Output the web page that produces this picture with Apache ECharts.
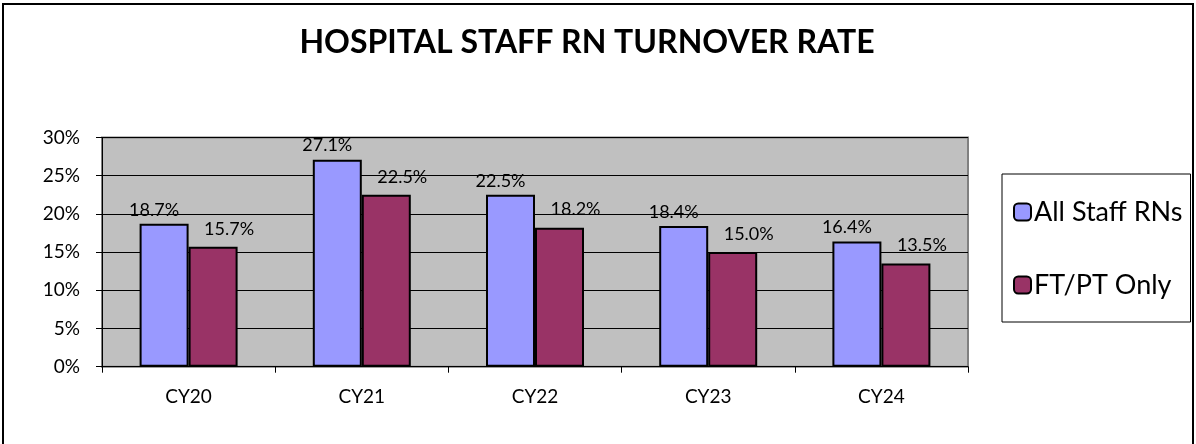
<!DOCTYPE html>
<html>
<head>
<meta charset="utf-8">
<script src="https://cdn.jsdelivr.net/npm/echarts@6/dist/echarts.min.js"></script>
<style>
  html, body { margin: 0; padding: 0; background: #fff; }
  #chart-wrap { width: 1196px; height: 444px; }
</style>
</head>
<body>
<div id="chart-wrap"></div>
<script>
// 年份
const years = ['CY20', 'CY21', 'CY22', 'CY23', 'CY24']
// 全部护士流失率 (%)
const allStaff = [18.7, 27.1, 22.5, 18.4, 16.4]
// 全职/兼职
const ftPt = [15.7, 22.5, 18.2, 15.0, 13.5]
// y 轴刻度
const yTicks = [0, 5, 10, 15, 20, 25, 30]

const $chart = document.getElementById('chart-wrap')
let chart = echarts.init($chart)

const font = 'Lato'

function barLabel(offsetX, dist) {
  return {
    show: true,
    position: 'top',
    distance: dist,
    offset: [offsetX, 0],
    fontFamily: font,
    fontSize: 18,
    color: '#000',
    formatter(p) {
      return p.value.toFixed(1) + '%'
    }
  }
}

const option = {
  animation: false,
  backgroundColor: '#fff',
  title: {
    text: 'HOSPITAL STAFF RN TURNOVER RATE',
    left: 587,
    top: 27,
    textAlign: 'center',
    padding: 0,
    textStyle: {
      fontFamily: font,
      fontWeight: 'bold',
      fontSize: 32,
      color: '#000'
    }
  },
  legend: {
    orient: 'vertical',
    left: 1002,
    top: 174,
    padding: [23, 8, 22, 11],
    itemGap: 43,
    itemWidth: 17,
    itemHeight: 17,
    itemStyle: { borderColor: '#000', borderWidth: 2 },
    borderColor: '#000',
    borderWidth: 1,
    backgroundColor: '#fff',
    textStyle: {
      fontFamily: font,
      fontSize: 27,
      lineHeight: 30,
      color: '#000',
      padding: [0, 0, 0, -2]
    },
    data: ['All Staff RNs', 'FT/PT Only']
  },
  grid: {
    left: 102,
    right: 228,
    top: 137.5,
    bottom: 77.3,
    show: true,
    backgroundColor: '#C0C0C0',
    borderColor: '#808080',
    borderWidth: 2
  },
  xAxis: {
    type: 'category',
    data: years,
    axisLine: { lineStyle: { color: '#000', width: 1 } },
    axisTick: { show: true, length: 6, interval: 0, lineStyle: { color: '#000' } },
    axisLabel: { fontFamily: font, fontSize: 19, color: '#000', margin: 21 }
  },
  yAxis: {
    type: 'value',
    min: yTicks[0],
    max: yTicks[yTicks.length - 1],
    interval: yTicks[1] - yTicks[0],
    axisLine: { show: true, lineStyle: { color: '#000', width: 1 } },
    axisTick: { show: true, length: 6, lineStyle: { color: '#000' } },
    axisLabel: { fontFamily: font, fontSize: 19, color: '#000', margin: 22, formatter: '{value}%' },
    splitLine: { lineStyle: { color: '#000', width: 1 } }
  },
  series: [
    {
      name: 'All Staff RNs',
      type: 'bar',
      data: allStaff,
      barWidth: 49,
      barGap: '0%',
      itemStyle: { color: '#9999FF', borderColor: '#000', borderWidth: 2 },
      label: barLabel(-10, 5)
    },
    {
      name: 'FT/PT Only',
      type: 'bar',
      data: ftPt,
      barWidth: 49,
      barGap: '0%',
      itemStyle: { color: '#993366', borderColor: '#000', borderWidth: 2 },
      label: barLabel(16, 9)
    }
  ],
  graphic: [
    {
      type: 'rect',
      shape: { x: 3, y: 4, width: 1190, height: 470 },
      style: { fill: 'none', stroke: '#000', lineWidth: 2 },
      silent: true
    }
  ]
}

chart.setOption(option)
</script>
</body>
</html>
